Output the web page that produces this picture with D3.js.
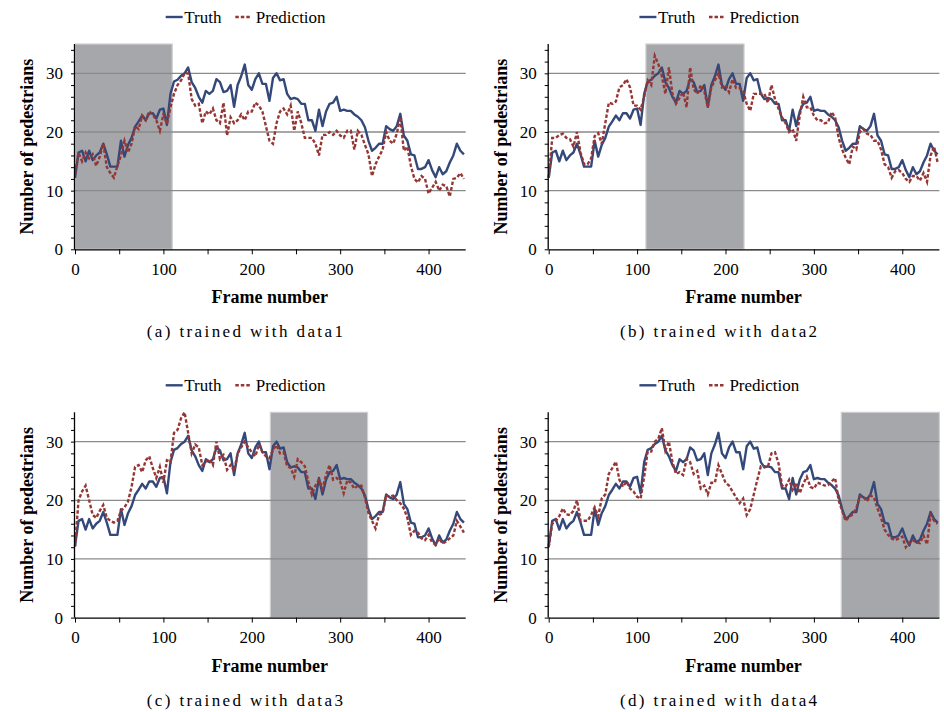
<!DOCTYPE html>
<html><head><meta charset="utf-8">
<script src="https://cdn.jsdelivr.net/npm/d3@7"></script>
<style>body{margin:0;background:#fff}svg{display:block}svg text{font-family:'Liberation Serif','Times New Roman',serif}</style>
</head><body><svg id="chart" width="944" height="712"></svg>
<script>
const frameStep = 4; // frames 0,4,8,...,440
const truth = [
12.2,16.5,16.8,15.0,16.8,15.2,16.0,16.5,18.0,16.2,
14.1,14.1,14.1,18.5,15.8,17.8,19.0,20.9,21.8,22.8,
22.0,23.2,23.2,22.3,23.8,24.0,21.2,26.5,28.6,28.9,
29.6,30.0,31.0,28.5,27.5,26.0,25.0,27.0,26.5,27.0,
29.0,28.5,26.8,27.0,28.0,24.3,28.0,29.5,31.5,28.0,
27.2,29.0,30.0,28.2,28.2,25.3,29.2,30.0,28.8,29.0,
26.5,25.6,25.8,25.6,24.8,24.8,22.0,22.0,20.2,23.8,
21.0,23.5,24.8,25.0,26.0,23.6,23.8,23.6,23.6,23.0,
22.6,22.0,20.8,18.5,16.8,17.3,18.0,18.0,21.0,20.5,
20.2,21.0,23.1,19.4,18.5,16.2,16.0,13.7,13.7,14.0,
15.2,13.5,12.3,14.0,12.8,13.3,14.8,16.0,18.0,16.8,
16.2];
const predData1 = [
13.0,16.5,15.0,16.5,15.5,16.2,14.2,15.8,18.0,14.0,
13.0,12.2,14.2,16.0,18.5,16.5,18.0,21.0,20.5,22.8,
22.0,23.5,23.0,22.0,20.2,23.0,21.4,24.2,26.5,28.0,
28.8,30.0,30.0,25.6,24.5,24.8,21.5,23.5,23.0,24.0,
22.0,21.5,25.0,19.4,22.5,21.5,22.0,23.0,22.0,23.5,
23.5,25.0,24.5,23.5,21.0,18.5,18.0,21.5,23.5,24.0,
23.0,24.5,20.2,23.5,21.5,19.0,19.0,19.0,18.0,16.0,
19.5,19.5,20.0,19.5,20.2,19.4,19.0,20.2,20.2,17.0,
20.2,19.5,17.8,16.2,12.5,14.5,15.8,17.0,20.0,18.5,
18.0,19.7,22.5,16.8,17.5,14.2,12.0,11.4,12.5,12.0,
9.5,10.5,11.5,10.0,11.0,10.8,9.0,12.0,12.2,13.0,
12.0];
const predData2 = [
12.2,19.0,19.0,19.5,19.7,19.0,18.8,17.5,20.0,16.5,
14.5,14.5,15.5,19.3,19.8,18.0,21.5,25.0,24.8,25.2,
27.6,28.0,29.0,27.6,24.5,24.5,23.8,26.0,28.8,28.0,
33.0,31.6,29.5,26.5,31.0,26.5,24.8,25.8,26.8,24.2,
31.0,27.3,26.5,28.0,27.0,24.2,27.6,28.8,30.0,27.6,
28.0,26.8,29.0,27.5,27.5,27.0,24.8,23.6,26.5,26.5,
26.5,26.5,25.0,28.0,25.6,24.0,22.5,21.5,20.0,20.5,
18.5,22.8,26.0,24.2,24.2,22.8,22.0,22.0,21.5,21.6,
23.4,22.5,19.0,17.0,15.6,14.5,17.5,17.0,20.0,20.5,
19.7,19.5,18.5,18.5,17.0,14.5,14.0,12.2,13.3,13.5,
13.0,12.0,11.5,12.5,12.5,11.7,13.0,11.5,16.0,17.5,
14.8];
const predData3 = [
12.1,20.0,21.5,22.5,20.0,17.5,17.0,18.2,19.2,17.0,
16.5,16.2,16.5,18.2,18.8,19.8,22.3,25.7,26.0,24.8,
26.8,27.5,25.5,23.8,25.7,23.0,26.8,26.5,31.5,32.0,
34.0,35.0,31.5,28.0,29.5,29.0,26.0,26.5,27.0,26.0,
30.0,27.0,27.7,25.2,26.0,25.0,28.0,29.0,30.0,29.0,
28.2,27.5,29.5,28.2,27.5,27.2,28.6,29.4,28.0,28.2,
25.8,25.5,24.0,27.0,26.5,25.8,23.2,21.0,22.5,23.5,
22.0,24.3,26.0,23.5,23.8,23.2,21.2,23.4,23.0,22.0,
22.5,22.5,20.5,17.8,16.5,15.2,17.5,17.8,20.8,20.6,
20.8,20.0,19.5,18.6,17.0,14.1,14.8,14.5,13.5,13.2,
14.1,12.8,12.5,13.5,12.6,13.0,13.5,14.0,16.5,15.5,
14.5];
const predData4 = [
12.0,16.0,16.5,17.3,18.6,17.6,17.5,18.2,20.0,16.5,
16.5,16.5,17.5,18.8,17.3,20.3,21.0,24.5,25.5,26.6,
23.5,22.3,23.2,22.0,21.5,20.6,20.3,24.0,28.3,28.3,
30.0,30.5,32.3,28.5,30.0,26.5,24.5,24.8,24.3,27.0,
26.5,24.5,25.0,22.0,22.5,21.0,23.0,23.0,26.0,24.5,
23.0,22.5,21.5,20.5,19.5,20.3,17.5,18.5,21.0,23.5,
25.8,25.8,25.7,28.0,28.2,26.3,22.5,22.3,23.5,21.8,
23.0,21.2,22.8,24.0,22.3,22.0,23.0,22.8,22.5,22.6,
23.2,23.8,20.0,18.2,16.5,17.2,17.6,18.6,20.7,20.6,
19.8,20.8,20.5,18.6,17.0,15.0,14.1,13.5,13.2,13.5,
13.8,12.0,12.8,13.2,12.8,12.7,14.0,12.5,17.5,16.5,
16.0];
const predictions = [predData1, predData2, predData3, predData4];
const captions = ["(a) trained with data1","(b) trained with data2","(c) trained with data3","(d) trained with data4"];
const trainRanges = [[0,110],[110,221],[221,331],[331,442]];
const seriesNames = ["Truth","Prediction"];
const xTicks = [0,50,100,150,200,250,300,350,400];
const xTickLabels = [0,100,200,300,400];
const yGrid = [10,20,30];
const yTickLabels = [0,10,20,30];
const yMinorTicks = d3.range(0,35,2);
const xLabel = "Frame number", yLabel = "Number of pedestrians";

const truthColor = "#34497a", predColor = "#953735";
const serif = "'Liberation Serif','Times New Roman',serif";
const svg = d3.select("#chart");
const W = 390.7, H = 205.3;
const origins = [[75,44],[548.7,44],[75,412.3],[548.7,412.3]];

predictions.forEach((pred, i) => {
  const [ox, oy] = origins[i];
  const g = svg.append("g").attr("transform", `translate(${ox},${oy})`);
  const x = d3.scaleLinear().domain([0,442]).range([0,W]);
  const y = d3.scaleLinear().domain([0,35]).range([H,0]);
  const r = trainRanges[i];
  g.append("rect").attr("x", x(r[0])).attr("y", 0).attr("width", x(r[1])-x(r[0])).attr("height", H)
    .attr("fill", "#a6a7aa").attr("stroke", "#cfd0d2").attr("stroke-width", 1.2);
  g.selectAll(".grid").data(yGrid).enter().append("line")
    .attr("x1", 0).attr("x2", W).attr("y1", d=>y(d)).attr("y2", d=>y(d))
    .attr("stroke", "#8a8a8a").attr("stroke-width", 1.3);
  const line = d3.line().x((d,j)=>x(j*frameStep)).y(d=>y(d));
  g.append("path").datum(truth).attr("d", line).attr("fill","none")
    .attr("stroke", truthColor).attr("stroke-width", 2.4).attr("stroke-linejoin","round");
  g.append("path").datum(pred).attr("d", line).attr("fill","none")
    .attr("stroke", predColor).attr("stroke-width", 2.4).attr("stroke-dasharray","3.5,2");
  const xAxis = d3.axisBottom(x).tickValues(xTicks).tickSize(5).tickFormat(d => xTickLabels.includes(d) ? d : "");
  const xa = g.append("g").attr("transform", `translate(0,${H})`).call(xAxis);
  xa.attr("font-family", null);
  xa.select(".domain").attr("d", `M0,0.5H${W}`).attr("stroke","#000").attr("stroke-width",1.3);
  xa.selectAll("text").style("font-family", serif).attr("font-size", 17).attr("fill","#000").attr("dy","1.05em");
  const yAxis = d3.axisLeft(y).tickValues(yMinorTicks).tickSize(4).tickFormat(d => yTickLabels.includes(d) ? d : "");
  const ya = g.append("g").call(yAxis);
  ya.attr("font-family", null);
  ya.select(".domain").attr("d", `M-0.5,0V${H}`).attr("stroke","#000").attr("stroke-width",1.3);
  ya.selectAll("text").style("font-family", serif).attr("font-size", 17).attr("fill","#000").attr("x",-12);
  g.append("text").attr("x", W/2 - 0.5).attr("y", H + 54).attr("text-anchor","middle")
    .style("font-family", serif).attr("font-weight","bold").attr("font-size", 18).text(xLabel);
  g.append("text").attr("transform", `translate(-42,${H/2}) rotate(-90)`).attr("text-anchor","middle")
    .style("font-family", serif).attr("font-weight","bold").attr("font-size", 18).text(yLabel);
  const lg = g.append("g").attr("transform", `translate(90.7,-27)`);
  lg.append("line").attr("x1",0).attr("x2",17).attr("y1",0).attr("y2",0).attr("stroke",truthColor).attr("stroke-width",2.4);
  lg.append("text").attr("x",18.6).attr("y",6).style("font-family",serif).attr("font-size",17).text(seriesNames[0]);
  lg.append("line").attr("x1",69.6).attr("x2",86).attr("y1",0).attr("y2",0).attr("stroke",predColor).attr("stroke-width",2.4).attr("stroke-dasharray","3.5,2");
  lg.append("text").attr("x",90).attr("y",6).style("font-family",serif).attr("font-size",17).text(seriesNames[1]);
  g.append("text").attr("x", 171).attr("y", H + 88).attr("text-anchor","middle")
    .style("font-family", serif).attr("font-size", 17).attr("letter-spacing", "2.4px").text(captions[i]);
});
</script></body></html>
